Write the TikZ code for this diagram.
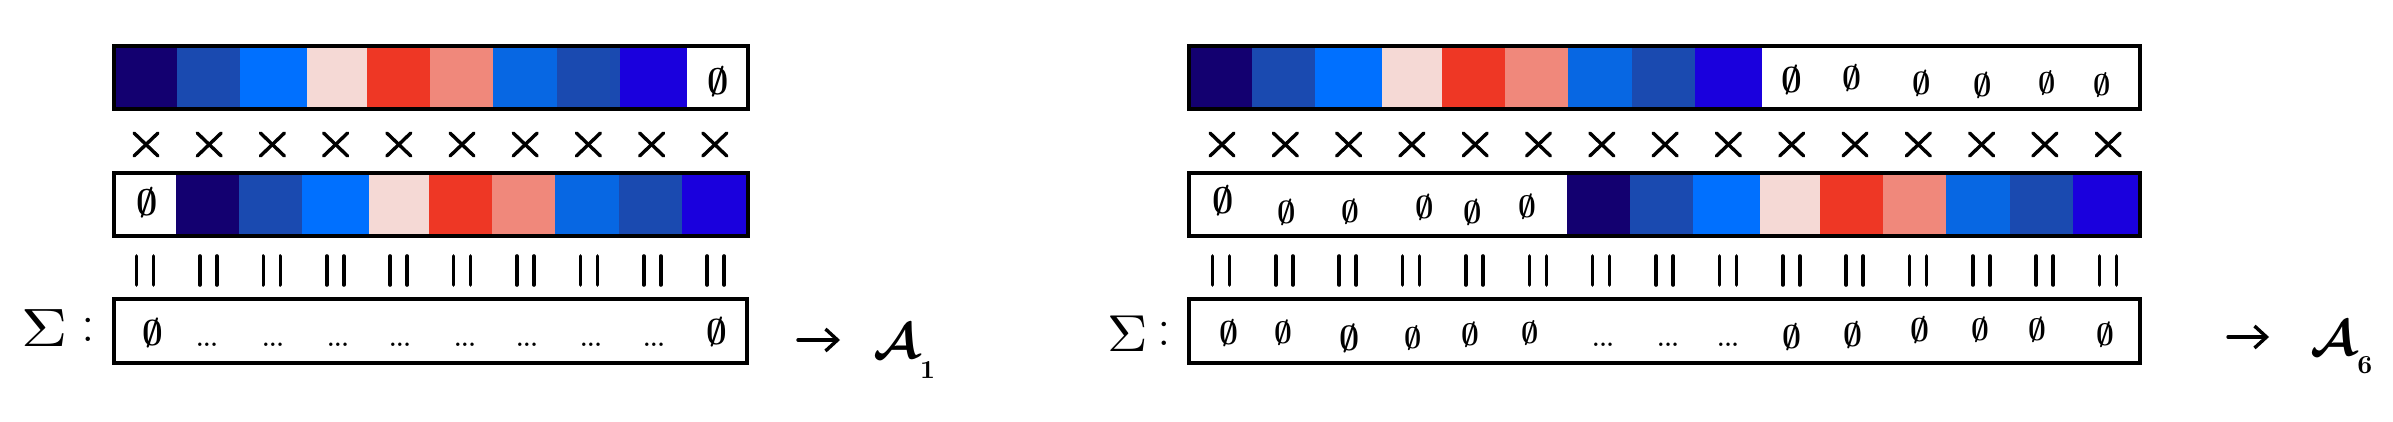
\documentclass[tikz,border=0pt]{standalone}
\usepackage{amssymb}
\usetikzlibrary{arrows.meta}
\definecolor{cA}{HTML}{130070}
\definecolor{cB}{HTML}{1A4AB0}
\definecolor{cC}{HTML}{0070FF}
\definecolor{cD}{HTML}{F5D9D5}
\definecolor{cE}{HTML}{EE3725}
\definecolor{cF}{HTML}{F0887B}
\definecolor{cG}{HTML}{0767E3}
\definecolor{cH}{HTML}{1A4AB0}
\definecolor{cI}{HTML}{1A00DD}
\newcommand\mystrip[3]{%
  \foreach \a/\b/\c in {0/63/cA,63/126/cB,126/193/cC,193/253/cD,253/316/cE,316/379/cF,379/443/cG,443/506/cH,506/573/cI}
    \fill[\c] (#1+\a,#2) rectangle (#1+\b,#3);}
\newcommand\nl[1]{\scalebox{#1}{\boldmath$\emptyset$}}
\newcommand\hdots{\scalebox{2.2}{\textbf{...}}}
\tikzset{
  barframe/.style={draw=black, line width=3.2pt, line join=miter},
  crossmark/.style={line width=3.4pt, line cap=round},
  eqmark/.style={line width=3.6pt, line cap=round},
  nul/.style={inner sep=0pt},
  dotsnode/.style={inner sep=0pt, anchor=base},
  bigsym/.style={inner sep=0pt},
  calA/.style={inner sep=0pt, anchor=base west},
  handarrow/.style={line width=3.4pt, line cap=round, -{Straight Barb[length=12pt,width=22pt,line width=3.4pt]}}
}
\begin{document}
\begin{tikzpicture}[x=1pt,y=-1pt]
\useasboundingbox (0,0) rectangle (2393,422);
\fill[white] (0,0) rectangle (2393,422);

% ---------------- left panel ----------------
\mystrip{114}{46}{109}
\draw[barframe] (114,46) rectangle (748,109);
\node[nul] (l0) at (718,82) {\nl{3.7}};

\foreach \i in {0,...,9} {
  \draw[crossmark] (146+63.2*\i-12,133) -- (146+63.2*\i+12,156);
  \draw[crossmark] (146+63.2*\i+12,133) -- (146+63.2*\i-12,156);
}

\mystrip{176}{173}{236}
\draw[barframe] (114,173) rectangle (748,236);
\node[nul] (l1) at (147,203) {\nl{3.7}};

\foreach \i in {0,...,9} {
  \draw[eqmark] (145+63.4*\i-8.5,256) -- (145+63.4*\i-8.5,285);
  \draw[eqmark] (145+63.4*\i+8.5,256) -- (145+63.4*\i+8.5,285);
}

\node[bigsym] (sigL) at (45,328) {\scalebox{6.4}[5.4]{$\Sigma$}};
\node[bigsym, font=\fontsize{54}{54}\selectfont] (colL) at (88,330) {:};
\draw[barframe] (114,299) rectangle (747,363);
\node[nul] (l2) at (153,333) {\nl{3.6}};
\foreach \x [count=\k] in {207,273,338,400,465,527,591,654}
  \node[dotsnode] (ld\k) at (\x,346) {\hdots};
\node[nul] (l3) at (717,332) {\nl{3.6}};

\coordinate (arL) at (798,340);
\node[calA] (A1) at (873,358) {\scalebox{5}{\boldmath$\mathcal{A}$}\kern1pt\raisebox{-20pt}{\scalebox{2.6}{\boldmath$1$}}};
\draw[handarrow, shorten >=33pt] (arL) -- (A1.west |- arL);

% ---------------- right panel ----------------
\mystrip{1189}{46}{109}
\draw[barframe] (1189,46) rectangle (2140,109);
\node[nul] (r01) at (1792,80) {\nl{3.6}};
\node[nul] (r02) at (1852,78) {\nl{3.3}};
\node[nul] (r03) at (1922,83) {\nl{3.2}};
\node[nul] (r04) at (1983,85) {\nl{3.2}};
\node[nul] (r05) at (2047,83) {\nl{3.0}};
\node[nul] (r06) at (2102,85) {\nl{3.0}};

\foreach \i in {0,...,14} {
  \draw[crossmark] (1222+63.3*\i-12,133) -- (1222+63.3*\i+12,156);
  \draw[crossmark] (1222+63.3*\i+12,133) -- (1222+63.3*\i-12,156);
}

\mystrip{1567}{173}{236}
\draw[barframe] (1189,173) rectangle (2140,236);
\node[nul] (r11) at (1223,201) {\nl{3.7}};
\node[nul] (r12) at (1287,212) {\nl{3.2}};
\node[nul] (r13) at (1350,212) {\nl{3.1}};
\node[nul] (r14) at (1425,207) {\nl{3.2}};
\node[nul] (r15) at (1473,212) {\nl{3.2}};
\node[nul] (r16) at (1527,207) {\nl{3.1}};

\foreach \i in {0,...,14} {
  \draw[eqmark] (1221+63.36*\i-8.5,256) -- (1221+63.36*\i-8.5,285);
  \draw[eqmark] (1221+63.36*\i+8.5,256) -- (1221+63.36*\i+8.5,285);
}

\node[bigsym] (sigR) at (1128,334) {\scalebox{5.6}[5.2]{$\Sigma$}};
\node[bigsym, font=\fontsize{54}{54}\selectfont] (colR) at (1164,334) {:};
\draw[barframe] (1189,299) rectangle (2140,363);
\foreach \x/\y/\s [count=\k] in {1229/333/3.3,1283/333/3.1,1350/338/3.5,1413/338/3.0,1470/335/3.1,1530/333/3.0,1792/337/3.3,1853/335/3.3,1920/330/3.3,1980/330/3.1,2037/330/3.1,2105/335/3.1}
  \node[nul] (rs\k) at (\x,\y) {\nl{\s}};
\foreach \x [count=\k] in {1603,1668,1728}
  \node[dotsnode] (rd\k) at (\x,346) {\hdots};

\coordinate (arR) at (2228,337);
\node[calA] (A6) at (2310,355) {\scalebox{5}{\boldmath$\mathcal{A}$}\kern1pt\raisebox{-18pt}{\scalebox{2.6}{\boldmath$6$}}};
\draw[handarrow, shorten >=41pt] (arR) -- (A6.west |- arR);
\end{tikzpicture}
\end{document}
